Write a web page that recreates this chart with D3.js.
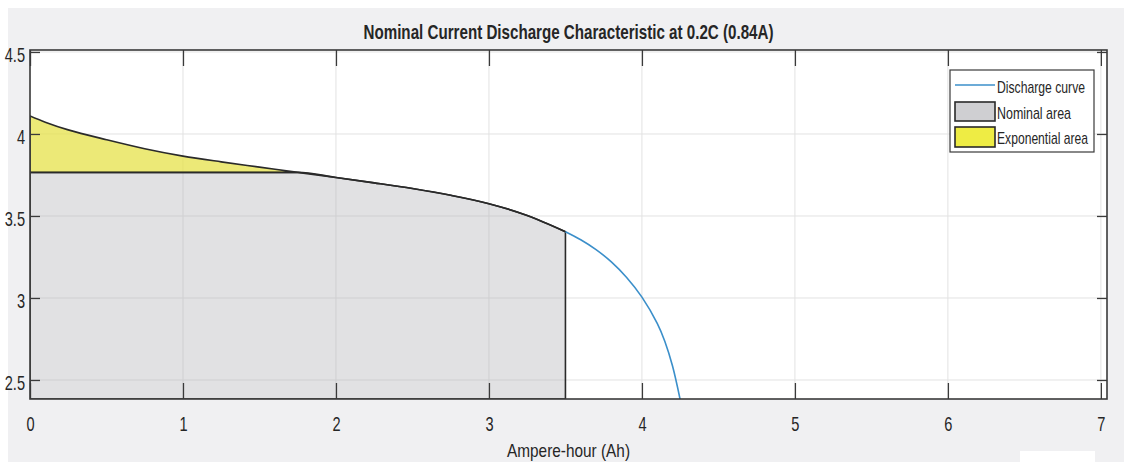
<!DOCTYPE html>
<html>
<head>
<meta charset="utf-8">
<script src="https://cdn.jsdelivr.net/npm/d3@7"></script>
<style>
  body { margin: 0; background: #ffffff; }
  text { font-family: "Liberation Sans", Arial, sans-serif; fill: #262626; }
</style>
</head>
<body>
<svg id="chart" width="1124" height="465"></svg>
<script>
// discharge curve, capacity (Ah) vs voltage (V)
const ampHours = [0, 0.1, 0.25, 0.5, 0.75, 1.0, 1.25, 1.5, 1.75, 2.0, 2.25, 2.5, 2.75, 3.0, 3.25, 3.5, 3.6, 3.7, 3.8, 3.9, 4.0, 4.1, 4.15, 4.2, 4.25];
const voltages = [4.11, 4.072, 4.025, 3.965, 3.91, 3.865, 3.83, 3.798, 3.766, 3.735, 3.702, 3.667, 3.626, 3.575, 3.503, 3.404, 3.355, 3.295, 3.22, 3.125, 3.005, 2.845, 2.735, 2.585, 2.38];

const nominalVoltage = 3.766;
const exponentialEndAh = 1.75;
const nominalEndAh = 3.5;

const xTicks = [0, 1, 2, 3, 4, 5, 6, 7];
const yTicks = [2.5, 3, 3.5, 4, 4.5];
const xDomain = [0, 7.04];
const yDomain = [2.384, 4.512];

const chartTitle = 'Nominal Current Discharge Characteristic at 0.2C (0.84A)';
const xLabel = 'Ampere-hour (Ah)';
const legendLabels = ['Discharge curve', 'Nominal area', 'Exponential area'];

// fonts in this figure are squeezed horizontally
const SQUEEZE = 0.73;

const plot = { left: 30, top: 50, right: 1107, bottom: 399 };

const svg = d3.select('#chart');

// figure panel
svg.append('rect').attr('x', 8).attr('y', 8).attr('width', 1116).attr('height', 454).attr('fill', '#f0f0f2');
svg.append('rect').attr('x', 1020).attr('y', 451).attr('width', 75).attr('height', 14).attr('fill', '#ffffff');

const x = d3.scaleLinear().domain(xDomain).range([plot.left, plot.right]);
const y = d3.scaleLinear().domain(yDomain).range([plot.bottom, plot.top]);

const data = ampHours.map((ah, i) => ({ ah, v: voltages[i] }));
const smooth = d3.curveCatmullRom.alpha(0.5);

svg.append('defs').append('clipPath').attr('id', 'plotClip')
  .append('rect')
  .attr('x', plot.left).attr('y', plot.top)
  .attr('width', plot.right - plot.left).attr('height', plot.bottom - plot.top);

// axes background
svg.append('rect')
  .attr('x', plot.left).attr('y', plot.top)
  .attr('width', plot.right - plot.left).attr('height', plot.bottom - plot.top)
  .attr('fill', '#ffffff');

// grid
const grid = svg.append('g').attr('stroke', '#e2e2e2').attr('stroke-width', 1);
grid.selectAll('.gx').data(xTicks).join('line')
  .attr('x1', d => x(d)).attr('x2', d => x(d))
  .attr('y1', plot.top).attr('y2', plot.bottom);
grid.selectAll('.gy').data(yTicks).join('line')
  .attr('x1', plot.left).attr('x2', plot.right)
  .attr('y1', d => y(d)).attr('y2', d => y(d));

const dataLayer = svg.append('g').attr('clip-path', 'url(#plotClip)');

// nominal area: under the curve, capped at nominal voltage, up to nominalEndAh
const nominalArea = d3.area()
  .curve(d3.curveMonotoneX)
  .x(d => x(d.ah))
  .y0(plot.bottom)
  .y1(d => y(Math.min(d.v, nominalVoltage)));

dataLayer.append('path')
  .attr('d', nominalArea(data.filter(d => d.ah <= nominalEndAh)))
  .attr('fill', '#b3b4b9')
  .attr('fill-opacity', 0.4)
  .attr('stroke', '#2a2a2a')
  .attr('stroke-width', 1.6);

// exponential area: between curve and nominal voltage
const expArea = d3.area()
  .curve(smooth)
  .x(d => x(d.ah))
  .y0(y(nominalVoltage))
  .y1(d => y(d.v));

dataLayer.append('path')
  .attr('d', expArea(data.filter(d => d.ah <= exponentialEndAh)))
  .attr('fill', '#e6e24a')
  .attr('fill-opacity', 0.75)
  .attr('stroke', '#2a2a2a')
  .attr('stroke-width', 1.6);

// discharge curve: dark over the nominal zone, blue beyond it
const line = d3.line().curve(smooth).x(d => x(d.ah)).y(d => y(d.v));
dataLayer.append('path')
  .attr('d', line(data.filter(d => d.ah >= exponentialEndAh && d.ah <= nominalEndAh)))
  .attr('fill', 'none')
  .attr('stroke', '#2a2a2a')
  .attr('stroke-width', 1.6);
dataLayer.append('path')
  .attr('d', line(data.filter(d => d.ah >= nominalEndAh)))
  .attr('fill', 'none')
  .attr('stroke', '#3b8fca')
  .attr('stroke-width', 1.6);

// axes with inward ticks on all four sides
const axisColor = '#3a3a3a';
const styleAxis = g => {
  g.select('.domain').remove();
  g.selectAll('line').attr('stroke', axisColor).attr('stroke-width', 1.3);
};

svg.append('g')
  .attr('transform', `translate(0,${plot.bottom})`)
  .call(d3.axisBottom(x).tickValues(xTicks).tickSize(-16).tickPadding(18).tickFormat(d3.format('d')))
  .call(styleAxis)
  .call(g => g.selectAll('text')
    .attr('font-size', 20)
    .attr('fill', '#3a3a3a')
    .attr('transform', `scale(${SQUEEZE},1)`));

svg.append('g')
  .attr('transform', `translate(0,${plot.top})`)
  .call(d3.axisTop(x).tickValues(xTicks).tickSize(-16).tickFormat(''))
  .call(styleAxis);

svg.append('g')
  .attr('transform', `translate(${plot.left},0)`)
  .call(d3.axisLeft(y).tickValues(yTicks).tickSize(-10).tickFormat(d3.format('')))
  .call(styleAxis)
  .call(g => g.selectAll('text')
    .attr('font-size', 20)
    .attr('fill', '#3a3a3a')
    .attr('dy', '0.5em')
    .attr('x', -5 / SQUEEZE)
    .attr('transform', `scale(${SQUEEZE},1)`));

svg.append('g')
  .attr('transform', `translate(${plot.right},0)`)
  .call(d3.axisRight(y).tickValues(yTicks).tickSize(-10).tickFormat(''))
  .call(styleAxis);

// axes box
svg.append('rect')
  .attr('x', plot.left).attr('y', plot.top)
  .attr('width', plot.right - plot.left).attr('height', plot.bottom - plot.top)
  .attr('fill', 'none')
  .attr('stroke', axisColor)
  .attr('stroke-width', 1.6);

// title and axis label
svg.append('text')
  .attr('x', (plot.left + plot.right) / 2).attr('y', 39)
  .attr('text-anchor', 'middle')
  .attr('font-size', 21).attr('font-weight', 'bold')
  .attr('fill', '#1e1e1e')
  .attr('textLength', 410).attr('lengthAdjust', 'spacingAndGlyphs')
  .text(chartTitle);

svg.append('text')
  .attr('x', (plot.left + plot.right) / 2).attr('y', 457)
  .attr('text-anchor', 'middle')
  .attr('font-size', 19)
  .attr('fill', '#3a3a3a')
  .attr('textLength', 123).attr('lengthAdjust', 'spacingAndGlyphs')
  .text(xLabel);

// legend
const legend = svg.append('g').attr('transform', 'translate(950,70)');
legend.append('rect')
  .attr('width', 144).attr('height', 82)
  .attr('fill', '#ffffff').attr('stroke', '#3a3a3a').attr('stroke-width', 1.2);

const legendWidths = [88, 74, 91];
const legendBaselines = [23, 49, 74];
legendLabels.forEach((label, i) => {
  legend.append('text')
    .attr('x', 47).attr('y', legendBaselines[i])
    .attr('font-size', 17)
    .attr('fill', '#262626')
    .attr('textLength', legendWidths[i]).attr('lengthAdjust', 'spacingAndGlyphs')
    .text(label);
});
legend.append('line')
  .attr('x1', 5).attr('x2', 45).attr('y1', 15).attr('y2', 15)
  .attr('stroke', '#3b8fca').attr('stroke-width', 1.6);
legend.append('rect')
  .attr('x', 5).attr('y', 32).attr('width', 40).attr('height', 19)
  .attr('fill', '#cfcfd2').attr('stroke', '#2a2a2a').attr('stroke-width', 1.6);
legend.append('rect')
  .attr('x', 5).attr('y', 57).attr('width', 40).attr('height', 20)
  .attr('fill', '#eeec44').attr('stroke', '#2a2a2a').attr('stroke-width', 1.6);
</script>
</body>
</html>
